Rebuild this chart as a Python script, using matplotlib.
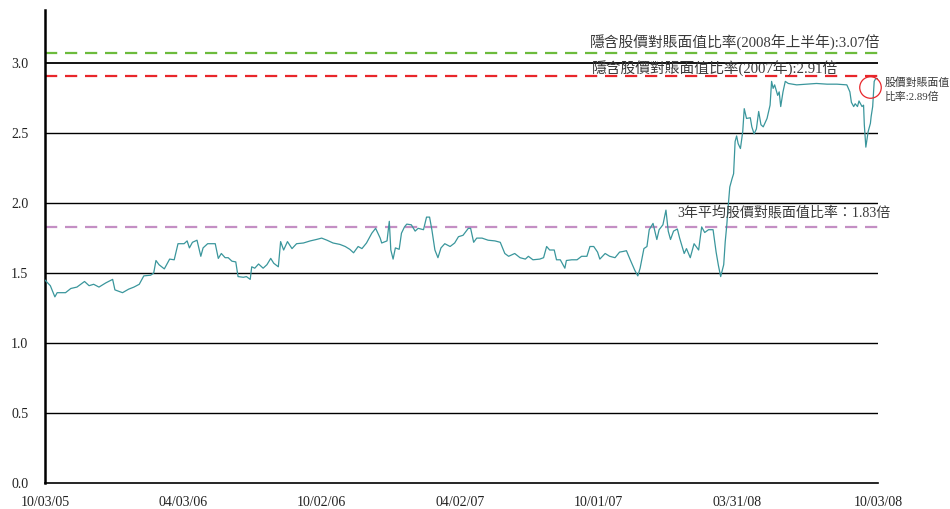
import matplotlib
matplotlib.use("Agg")
import matplotlib.pyplot as plt
import numpy as np
import pandas as pd

# ---- data ----
start_date = "2005-10-03"
day_offsets = [0, 7, 13, 16, 27, 34, 42, 52, 58, 64, 71, 80, 89, 92, 102, 110, 117, 124, 130, 139,
               143, 146, 150, 157, 164, 170, 175, 183, 187, 190, 194, 200, 205, 208, 214, 220, 224, 228,
               232, 237, 241, 246, 251, 254, 261, 265, 270, 272, 276, 281, 287, 292, 297, 301, 307, 310,
               314, 319, 325, 331, 340, 349, 357, 364, 371, 379, 388, 395, 401, 406, 412, 417, 423, 430,
               435, 441, 443, 450, 453, 455, 458, 461, 466, 469, 473, 476, 482, 487, 491, 498, 502, 506,
               509, 513, 517, 521, 526, 533, 539, 544, 550, 557, 560, 564, 568, 575, 583, 592, 599, 605,
               610, 618, 625, 632, 636, 642, 651, 656, 660, 664, 670, 673, 678, 684, 686, 693, 700, 706,
               713, 717, 722, 727, 730, 737, 743, 750, 756, 761, 765, 770, 776, 780, 783, 788, 792, 795,
               800, 805, 808, 813, 817, 820, 823, 827, 832, 835, 841, 844, 849, 854, 860, 864, 868, 873,
               879, 883, 886, 889, 893, 895, 897, 899, 901, 904, 906, 908, 910, 912, 915, 918, 920, 923,
               928, 930, 933, 936, 939, 942, 945, 950, 954, 956, 958, 960, 964, 966, 968, 971, 974, 978,
               989, 1002, 1015, 1029, 1042, 1055, 1059, 1061, 1064, 1066, 1069, 1071, 1075, 1077, 1078,
               1080, 1083, 1086, 1087, 1089, 1091, 1093, 1096]
pb_ratio = [1.45, 1.41, 1.33, 1.36, 1.36, 1.39, 1.40, 1.44, 1.41, 1.42, 1.40, 1.43, 1.455, 1.38, 1.36,
            1.385, 1.40, 1.42, 1.48, 1.485, 1.50, 1.59, 1.56, 1.53, 1.60, 1.595, 1.71, 1.71, 1.73, 1.68,
            1.72, 1.735, 1.62, 1.68, 1.71, 1.71, 1.71, 1.605, 1.64, 1.61, 1.61, 1.585, 1.58, 1.475, 1.47,
            1.475, 1.455, 1.545, 1.535, 1.565, 1.535, 1.56, 1.605, 1.57, 1.545, 1.725, 1.665, 1.725,
            1.675, 1.71, 1.715, 1.73, 1.74, 1.75, 1.735, 1.715, 1.705, 1.69, 1.67, 1.645, 1.69, 1.675,
            1.715, 1.785, 1.82, 1.75, 1.715, 1.73, 1.87, 1.665, 1.60, 1.68, 1.67, 1.785, 1.83, 1.85,
            1.845, 1.80, 1.82, 1.81, 1.90, 1.90, 1.81, 1.665, 1.61, 1.68, 1.71, 1.69, 1.715, 1.76, 1.77,
            1.82, 1.82, 1.72, 1.75, 1.75, 1.735, 1.73, 1.72, 1.64, 1.62, 1.64, 1.61, 1.60, 1.62, 1.595,
            1.60, 1.61, 1.69, 1.665, 1.665, 1.595, 1.595, 1.535, 1.59, 1.595, 1.595, 1.62, 1.62, 1.69,
            1.69, 1.65, 1.60, 1.64, 1.62, 1.61, 1.65, 1.655, 1.66, 1.595, 1.52, 1.48, 1.535, 1.675,
            1.69, 1.81, 1.855, 1.74, 1.81, 1.845, 1.95, 1.80, 1.74, 1.80, 1.815, 1.75, 1.64, 1.675,
            1.61, 1.71, 1.665, 1.83, 1.79, 1.81, 1.81, 1.65, 1.555, 1.475, 1.56, 1.725, 1.84, 1.985,
            2.115, 2.175, 2.21, 2.44, 2.48, 2.425, 2.39, 2.51, 2.675, 2.605, 2.61, 2.545, 2.495, 2.53,
            2.655, 2.56, 2.545, 2.605, 2.70, 2.87, 2.82, 2.845, 2.77, 2.795, 2.69, 2.795, 2.87, 2.855,
            2.845, 2.85, 2.855, 2.85, 2.85, 2.845, 2.795, 2.72, 2.69, 2.71, 2.69, 2.73, 2.69, 2.70,
            2.56, 2.40, 2.51, 2.57, 2.62, 2.69, 2.87, 2.89, 2.89]

tick_dates = ["2005-10-03", "2006-04-03", "2006-10-02", "2007-04-02",
              "2007-10-01", "2008-03-31", "2008-10-03"]
tick_labels = ["10/03/05", "04/03/06", "10/02/06", "04/02/07", "10/01/07", "03/31/08", "10/03/08"]
y_ticks = [0.0, 0.5, 1.0, 1.5, 2.0, 2.5, 3.0]

implied_2008h1 = 3.07
implied_2007 = 2.91
avg_3yr = 1.83
current_pb = 2.89

label_2008h1 = "隱含股價對賬面值比率(2008年上半年):3.07倍"
label_2007 = "隱含股價對賬面值比率(2007年):2.91倍"
label_avg = "3年平均股價對賬面值比率：1.83倍"
label_current = "股價對賬面值\n比率:2.89倍"

# ---- plot ----
dates = pd.Timestamp(start_date) + pd.to_timedelta(day_offsets, unit="D")
tdates = pd.to_datetime(tick_dates)

FONT = ["Liberation Serif", "Noto Sans CJK TC", "DejaVu Sans"]
plt.rcParams["font.family"] = FONT

fig = plt.figure(figsize=(9.5, 5.09), dpi=100)
ax = fig.add_axes([45 / 950, 1 - 483 / 509, (878 - 45) / 950, (483 - 10) / 509])

xmin, xmax = tdates[0], tdates[-1]
ax.set_xlim(xmin, xmax)
ax.set_ylim(0, 3.38)

for yv in y_ticks[1:]:
    ax.axhline(yv, color="black", lw=1.0 if yv < 3 else 1.3, zorder=1)

ax.axhline(implied_2008h1, color="#6cbb3c", lw=1.6, dashes=(5.5, 3.5), zorder=2)
ax.axhline(implied_2007, color="#e8262b", lw=1.6, dashes=(5.5, 3.5), zorder=2)
ax.axhline(avg_3yr, color="#c48fc4", lw=1.6, dashes=(5.5, 3.5), zorder=2)

ax.plot(dates, pb_ratio, color="#3a969c", lw=0.9, zorder=3)

# highlight circle around the latest value
ax.plot(pd.Timestamp("2008-09-22"), 2.83, marker="o", ms=15.5, mfc="none",
        mec="#e8262b", mew=0.9, zorder=4, clip_on=False)

txt_color = "#3a3a3a"
ax.text(pd.Timestamp("2008-10-06"), implied_2008h1 + 0.02, label_2008h1, ha="right", va="bottom",
        fontsize=10.6, color=txt_color, family=FONT)
ax.text(pd.Timestamp("2007-09-23"), implied_2007 + 0.045, label_2007, ha="left", va="center",
        fontsize=10.6, color=txt_color, family=FONT)
ax.text(pd.Timestamp("2008-10-19"), avg_3yr + 0.10, label_avg, ha="right", va="center",
        fontsize=10.1, color=txt_color, family=FONT, clip_on=False)
ax.text(pd.Timestamp("2008-10-12"), current_pb - 0.08, label_current, ha="left", va="center",
        fontsize=7.8, color=txt_color, family=FONT, linespacing=1.45, clip_on=False)

ax.set_xticks(tdates)
ax.set_xticklabels(tick_labels)
ax.set_yticks(y_ticks)
ax.set_yticklabels([f"{v:.1f}" for v in y_ticks])
ax.tick_params(axis="both", length=0, labelsize=10, colors="#222222")
ax.tick_params(axis="x", pad=9)
ax.tick_params(axis="y", pad=12)

for s in ["top", "right"]:
    ax.spines[s].set_visible(False)
ax.spines["left"].set_linewidth(1.8)
ax.spines["bottom"].set_linewidth(1.2)

fig.savefig("out.png", dpi=100)
